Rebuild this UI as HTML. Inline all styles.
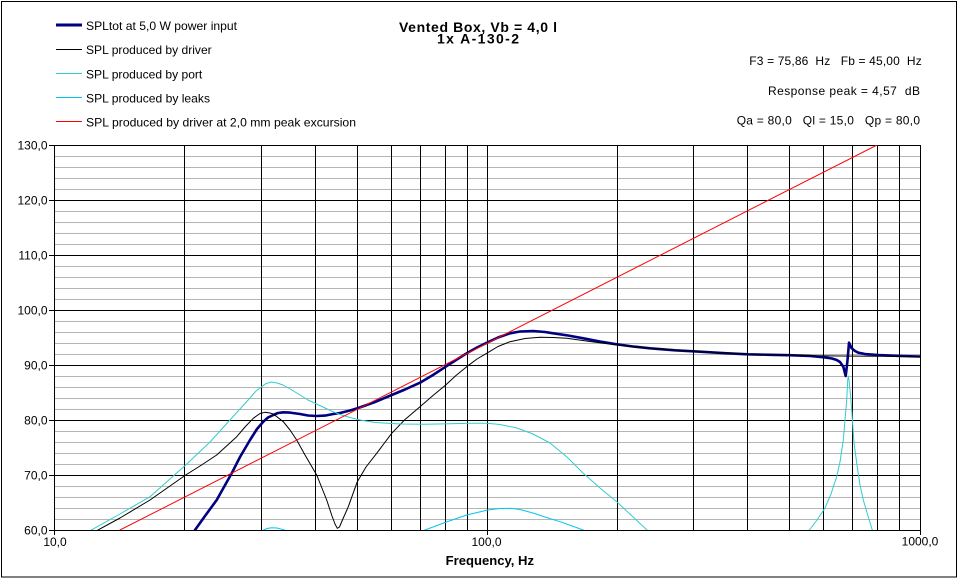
<!DOCTYPE html>
<html><head><meta charset="utf-8"><style>
html,body{margin:0;padding:0;background:#fff;}
svg{display:block;font-family:"Liberation Sans",Arial,sans-serif;}
</style></head><body>
<svg width="958" height="579" viewBox="0 0 958 579" xmlns="http://www.w3.org/2000/svg">
<rect x="0" y="0" width="958" height="579" fill="#fff"/>
<rect x="1.5" y="1.5" width="955" height="575.5" fill="none" stroke="#000" stroke-width="1"/>
<defs><clipPath id="pa"><rect x="54" y="145" width="866" height="385"/></clipPath></defs>
<g stroke="#b4b4b4" stroke-width="1">
<line x1="54" x2="920" y1="156.5" y2="156.5"/><line x1="54" x2="920" y1="167.5" y2="167.5"/><line x1="54" x2="920" y1="178.5" y2="178.5"/><line x1="54" x2="920" y1="189.5" y2="189.5"/>
<line x1="54" x2="920" y1="211.5" y2="211.5"/><line x1="54" x2="920" y1="222.5" y2="222.5"/><line x1="54" x2="920" y1="233.5" y2="233.5"/><line x1="54" x2="920" y1="244.5" y2="244.5"/>
<line x1="54" x2="920" y1="266.5" y2="266.5"/><line x1="54" x2="920" y1="277.5" y2="277.5"/><line x1="54" x2="920" y1="288.5" y2="288.5"/><line x1="54" x2="920" y1="299.5" y2="299.5"/>
<line x1="54" x2="920" y1="321.5" y2="321.5"/><line x1="54" x2="920" y1="332.5" y2="332.5"/><line x1="54" x2="920" y1="343.5" y2="343.5"/><line x1="54" x2="920" y1="354.5" y2="354.5"/>
<line x1="54" x2="920" y1="376.5" y2="376.5"/><line x1="54" x2="920" y1="387.5" y2="387.5"/><line x1="54" x2="920" y1="398.5" y2="398.5"/><line x1="54" x2="920" y1="409.5" y2="409.5"/>
<line x1="54" x2="920" y1="431.5" y2="431.5"/><line x1="54" x2="920" y1="442.5" y2="442.5"/><line x1="54" x2="920" y1="453.5" y2="453.5"/><line x1="54" x2="920" y1="464.5" y2="464.5"/>
<line x1="54" x2="920" y1="486.5" y2="486.5"/><line x1="54" x2="920" y1="497.5" y2="497.5"/><line x1="54" x2="920" y1="508.5" y2="508.5"/><line x1="54" x2="920" y1="519.5" y2="519.5"/>
</g>
<g stroke="#000" stroke-width="1">
<line x1="49" x2="920" y1="145.5" y2="145.5"/><line x1="49" x2="920" y1="200.5" y2="200.5"/><line x1="49" x2="920" y1="255.5" y2="255.5"/>
<line x1="49" x2="920" y1="310.5" y2="310.5"/><line x1="49" x2="920" y1="365.5" y2="365.5"/><line x1="49" x2="920" y1="420.5" y2="420.5"/>
<line x1="49" x2="920" y1="475.5" y2="475.5"/><line x1="49" x2="920" y1="530.5" y2="530.5"/>
<line x1="54.5" x2="54.5" y1="145" y2="535"/>
<line x1="184.5" x2="184.5" y1="145" y2="530"/><line x1="261.5" x2="261.5" y1="145" y2="530"/><line x1="315.5" x2="315.5" y1="145" y2="530"/>
<line x1="357.5" x2="357.5" y1="145" y2="530"/><line x1="391.5" x2="391.5" y1="145" y2="530"/><line x1="420.5" x2="420.5" y1="145" y2="530"/>
<line x1="445.5" x2="445.5" y1="145" y2="530"/><line x1="467.5" x2="467.5" y1="145" y2="530"/><line x1="487.5" x2="487.5" y1="145" y2="535"/>
<line x1="617.5" x2="617.5" y1="145" y2="530"/><line x1="693.5" x2="693.5" y1="145" y2="530"/><line x1="747.5" x2="747.5" y1="145" y2="530"/>
<line x1="789.5" x2="789.5" y1="145" y2="530"/><line x1="823.5" x2="823.5" y1="145" y2="530"/><line x1="852.5" x2="852.5" y1="145" y2="530"/>
<line x1="877.5" x2="877.5" y1="145" y2="530"/><line x1="899.5" x2="899.5" y1="145" y2="530"/><line x1="920.5" x2="920.5" y1="145" y2="535"/>
</g>
<g clip-path="url(#pa)" fill="none" stroke-linejoin="round" stroke-linecap="round">
<polyline stroke="#000080" stroke-width="2.6" points="190,540 195,530 205,516 216.7,500 231.7,473.3 240,457 250,440 257,429 263.3,421.7 268,417.5 273.3,415 278,413 283.3,412.3 290,412.6 300,414 308,415.5 316.7,416 325,415.6 333.3,414 340,413 350,410.5 358.3,408 375,402 391.7,395 405,389.5 420,382.7 433,375 445.7,366.7 456,360 466.7,353.3 477,347.5 487.7,342.3 498,337.5 510,333.3 520,331.5 533.3,331 545,332 553.3,333.3 568,335.5 583.3,338.3 600,341.5 616.7,344.3 633,346.5 650,348.3 675,350.3 700,351.7 725,353.2 747.7,354.3 770,354.8 789.3,355.2 810,356 824.3,357.3 832,358.5 836.7,360 840,362 843.3,366.7 845.7,376 847,365 847.7,358 849,342.7 851.7,348.3 855,351 858.3,352.7 865,354 878.3,355 900,356 920,356.5"/>
<polyline stroke="#000" stroke-width="1" points="90,535 96.7,530.7 120,518 150,500 185.7,475 200,466 216.7,455 236.7,436.7 245,427 253.3,418.3 260,413.5 265,412.3 270,413 273.3,414 283.3,421.7 290,430 296.7,440 305,455 316.7,475 326.7,500 332,516 335,524 337.3,528.3 339.5,527 342,521 348.3,506.7 357.3,481.7 366,467 376.7,453.3 391.7,433.3 405,419.5 420,406.7 433,395.5 445.7,385 456,375.5 466.7,366.7 477,359 487.7,352.7 498,346.5 510,341.7 525,338.5 540,337.3 553,337.5 566.7,338.3 590,341.5 616.7,345 650,348.3 700,351.8 750,354.3 800,355.5 840,356 880,356.3 920,356.6"/>
<polyline stroke="#33cccc" stroke-width="1" points="85,534 90,530.7 120,514 150,496.7 185.7,465 210,442 230,420 240,409 250,398 256,391 261.7,386.7 266,383.5 271.7,382 277,383 283,385 291,389.5 300,395 308,400 316.7,404 325,408 333,411.7 340,414.5 350,417.5 360,420 375,422.5 400,424 425,424.3 450,423.8 470,423.3 487,423.3 500,424.5 517,428 533,434 550,443 567,457 583,473 600,488 617,502 632,516 647,530 650,533"/>
<polyline stroke="#33cccc" stroke-width="1" points="805,535 809.3,530 817,520 825,508 831,494 836.7,476.7 840,462 843.3,440 845,420 846.7,400 847.7,380 848.4,376 849,380 850.5,395 851.7,410 854,443 857,465 860,485 863.3,500 868,516 872.3,530 874,535"/>
<polyline stroke="#00c8f0" stroke-width="1" points="420,532 425,530 445,522.5 466.7,515 487.7,510 500,508.5 510,508.3 520,509.5 533,513 545,517 560,521.7 575,527 583,530 588,532"/>
<polyline stroke="#00c8f0" stroke-width="1" points="258,532 263,530.3 267,528.5 271.7,527.7 277,528 282,529.3 286.7,530.7 290,532"/>
<line stroke="#ff0000" stroke-width="1" x1="120" y1="530" x2="877" y2="145"/>
</g>
<rect x="56" y="23.5" width="26" height="3" fill="#000080"/>
<rect x="56" y="49" width="26" height="1" fill="#000000"/>
<rect x="56" y="73" width="26" height="1" fill="#33cccc"/>
<rect x="56" y="97" width="26" height="1" fill="#00c8f0"/>
<rect x="56" y="121" width="26" height="1" fill="#ff0000"/>
<g font-size="12" fill="#000">
<text x="86" y="30" textLength="151" lengthAdjust="spacingAndGlyphs">SPLtot at 5,0 W power input</text>
<text x="86" y="54.2" textLength="125.7" lengthAdjust="spacingAndGlyphs">SPL produced by driver</text>
<text x="86" y="78.4" textLength="116.3" lengthAdjust="spacingAndGlyphs">SPL produced by port</text>
<text x="86" y="102.6" textLength="124" lengthAdjust="spacingAndGlyphs">SPL produced by leaks</text>
<text x="86" y="126.5" textLength="270" lengthAdjust="spacingAndGlyphs">SPL produced by driver at 2,0 mm peak excursion</text>
<text x="749.3" y="65" textLength="172.4" lengthAdjust="spacing" style="white-space:pre">F3 = 75,86  Hz   Fb = 45,00  Hz</text>
<text x="768" y="95" textLength="152" lengthAdjust="spacing" style="white-space:pre">Response peak = 4,57  dB</text>
<text x="736.7" y="124.5" textLength="183.3" lengthAdjust="spacing" style="white-space:pre">Qa = 80,0   Ql = 15,0   Qp = 80,0</text>
</g>
<g font-size="14" font-weight="bold" fill="#000">
<text x="399" y="32" textLength="158" lengthAdjust="spacing">Vented Box, Vb = 4,0 l</text>
<text x="478" y="43.5" text-anchor="middle" textLength="82" lengthAdjust="spacing">1x A-130-2</text>
</g>
<g font-size="12" fill="#000" text-anchor="end">
<text x="47.5" y="149.5">130,0</text>
<text x="47.5" y="204.5">120,0</text>
<text x="47.5" y="259.5">110,0</text>
<text x="47.5" y="314.5">100,0</text>
<text x="47.5" y="369.5">90,0</text>
<text x="47.5" y="424.5">80,0</text>
<text x="47.5" y="479.5">70,0</text>
<text x="47.5" y="534.5">60,0</text>
</g>
<g font-size="12" fill="#000" text-anchor="middle">
<text x="55" y="546">10,0</text>
<text x="486.5" y="546">100,0</text>
<text x="920" y="545.5">1000,0</text>
</g>
<text x="445.7" y="565" font-size="13" font-weight="bold" textLength="88.3" lengthAdjust="spacingAndGlyphs">Frequency, Hz</text>
</svg>
</body></html>
